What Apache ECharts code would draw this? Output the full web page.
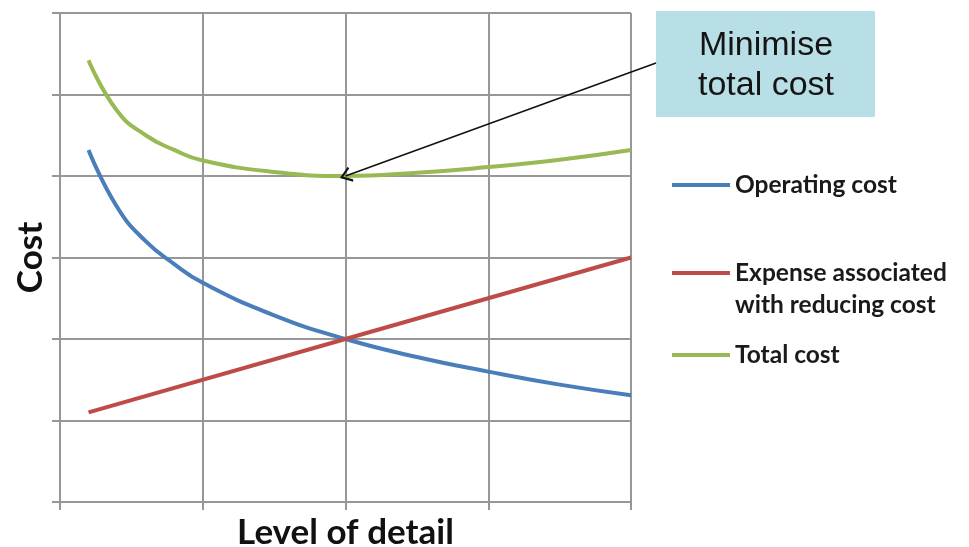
<!DOCTYPE html>
<html>
<head>
<meta charset="utf-8">
<script src="https://cdn.jsdelivr.net/npm/echarts@6/dist/echarts.min.js"></script>
<style>
  html, body { margin: 0; padding: 0; background: #fff; }
  #chart { width: 969px; height: 547px; }
</style>
</head>
<body>
<div id="chart"></div>
<script>
// values (x = level of detail, y = cost, both unlabeled)
const levels = [0.2, 0.4, 0.6, 0.8, 1, 1.5, 2, 2.5, 3, 3.5, 4];
const operatingCost = [4.32, 3.62, 3.2, 2.92, 2.69, 2.29, 2.0, 1.78, 1.6, 1.44, 1.31];
const expenseLevels = [0.2, 2, 4];
const expenseCost = [1.1, 2.0, 3.0];
const totalCost = [5.42, 4.8, 4.5, 4.32, 4.19, 4.05, 4.0, 4.04, 4.11, 4.2, 4.32];
const seriesNames = ["Operating cost", "Expense associated\nwith reducing cost", "Total cost"];
const minimumPoint = [2, 4];

const chart = echarts.init(document.getElementById("chart"));

const pairs = (xs, ys) => xs.map((x, i) => [x, ys[i]]);

const gridColor = "#979797";
const nameFont = {fontFamily: "Lato", fontWeight: "bold", fontSize: 35, color: "#111"};
const legendText = {
  fontFamily: "Lato",
  fontWeight: "bold",
  fontSize: 24.5,
  color: "#1a1a1a",
  lineHeight: 32
};

const legendFor = (name, top) => ({
  data: [name],
  left: 672,
  top: top,
  padding: 0,
  orient: "vertical",
  icon: "rect",
  itemWidth: 58,
  itemHeight: 4,
  selectedMode: false,
  textStyle: legendText
});

// two-line legend entry: icon sits level with the first line
const topLineIcon = "path://M0,0 L58,0 L58,4 L0,4 Z M0,36 L0,36 Z";

const option = {
  animation: false,
  grid: {left: 60, right: 338, top: 13, bottom: 45, outerBoundsMode: "none"},
  xAxis: {
    type: "value",
    min: 0,
    max: 4,
    interval: 1,
    name: "Level of detail",
    nameLocation: "middle",
    nameGap: 13,
    nameTextStyle: nameFont,
    axisLabel: {show: false},
    axisLine: {lineStyle: {color: gridColor, width: 2}},
    axisTick: {show: true, length: 8, lineStyle: {color: gridColor, width: 2}},
    splitLine: {show: true, lineStyle: {color: gridColor, width: 2}}
  },
  yAxis: {
    type: "value",
    min: 0,
    max: 6,
    interval: 1,
    name: "Cost",
    nameLocation: "middle",
    nameGap: 12,
    nameTextStyle: nameFont,
    axisLabel: {show: false},
    axisLine: {show: true, lineStyle: {color: gridColor, width: 2}},
    axisTick: {show: true, length: 8, lineStyle: {color: gridColor, width: 2}},
    splitLine: {show: true, lineStyle: {color: gridColor, width: 2}}
  },
  legend: [
    legendFor(seriesNames[0], 169),
    Object.assign(legendFor(seriesNames[1], 257), {icon: topLineIcon, itemHeight: 36}),
    legendFor(seriesNames[2], 339)
  ],
  graphic: [
    {
      type: "group",
      left: 656,
      top: 11,
      children: [
        {type: "rect", shape: {x: 0, y: 0, width: 219, height: 106}, style: {fill: "#b9dfe6"}},
        {
          type: "text",
          x: 110,
          y: 55,
          style: {
            text: "Minimise\ntotal cost",
            align: "center",
            verticalAlign: "middle",
            fontFamily: "Liberation Sans",
            fontSize: 34,
            lineHeight: 40,
            fill: "#141414"
          }
        }
      ]
    }
  ],
  series: [
    {
      name: seriesNames[0],
      type: "line",
      smooth: true,
      showSymbol: false,
      color: "#4a7ebb",
      lineStyle: {width: 4},
      data: pairs(levels, operatingCost)
    },
    {
      name: seriesNames[1],
      type: "line",
      showSymbol: false,
      color: "#be4b48",
      lineStyle: {width: 4},
      data: pairs(expenseLevels, expenseCost)
    },
    {
      name: seriesNames[2],
      type: "line",
      smooth: true,
      showSymbol: false,
      color: "#98b954",
      lineStyle: {width: 4},
      data: pairs(levels, totalCost),
      markLine: {
        silent: true,
        symbol: ["none", "path://M0,10 L5,0 L10,10 L8.6,10.6 L5,3.2 L1.4,10.6 Z"],
        symbolSize: [16, 12],
        label: {show: false},
        lineStyle: {color: "#111", width: 1.5, type: "solid"},
        data: [[{x: 656, y: 63}, {coord: minimumPoint}]]
      }
    }
  ]
};

chart.setOption(option);
</script>
</body>
</html>
